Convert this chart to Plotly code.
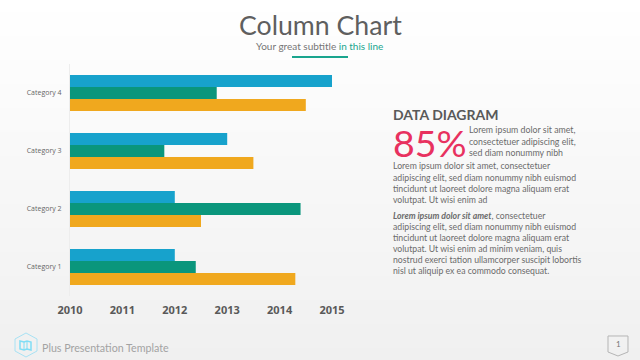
import plotly.graph_objects as go

categories = ["Category 1", "Category 2", "Category 3", "Category 4"]
series_blue = [2012, 2012, 2013, 2015]
series_green = [2012.4, 2014.4, 2011.8, 2012.8]
series_orange = [2014.3, 2012.5, 2013.5, 2014.5]
tick_years = [2010, 2011, 2012, 2013, 2014, 2015]

W, H = 640, 360
L, R, T, B = 70, 332, 64, 296
fig = go.Figure()
BASE = 2010
for vals, col in [(series_orange, "#F0A81E"), (series_green, "#0A967C"), (series_blue, "#17A2CC")]:
    fig.add_trace(go.Bar(y=categories, x=[v - BASE for v in vals], base=BASE, orientation="h",
                         marker=dict(color=col, line=dict(width=0)), showlegend=False, hoverinfo="skip"))

def px(x): return (x - L) / (R - L)
def py(y): return (B - y) / (B - T)

shapes = []
# background gradient
N = 60
for i in range(N):
    t = i / (N - 1)
    v = round(255 - 15 * t)
    shapes.append(dict(type="rect", xref="paper", yref="paper", x0=px(0), x1=px(W),
                       y0=py(H * (i + 1) / N), y1=py(H * i / N), layer="below",
                       fillcolor=f"rgb({v},{v},{v})", line=dict(width=0)))

def pixel_shape(x0, y0, x1, y1, color, **kw):
    shapes.append(dict(type="rect", xref="paper", yref="paper", x0=px(x0), x1=px(x1),
                       y0=py(y1), y1=py(y0), fillcolor=color, line=dict(width=0), **kw))

pixel_shape(292, 56, 348, 58, "#1AA58E")

def path(points, close=True):
    s = "M " + " L ".join(f"{px(x):.5f},{py(y):.5f}" for x, y in points)
    return s + (" Z" if close else "")

shapes.append(dict(type="path", xref="paper", yref="paper",
                   path=path([(26, 333), (37, 339), (37, 351), (26, 357), (15, 351), (15, 339)]),
                   line=dict(color="#A8E2F4", width=1), fillcolor="rgba(0,0,0,0)"))
shapes.append(dict(type="path", xref="paper", yref="paper",
                   path=path([(20, 341), (24, 342), (27, 341), (31, 342), (31, 350), (27, 349), (24, 350), (20, 349)]),
                   line=dict(color="#7FDDF5", width=1.5), fillcolor="rgba(0,0,0,0)"))
for fold_x, y0, y1 in [(24, 342, 350), (27, 341, 349)]:
    shapes.append(dict(type="line", xref="paper", yref="paper", x0=px(fold_x), x1=px(fold_x),
                       y0=py(y0), y1=py(y1), line=dict(color="#7FDDF5", width=1)))
shapes.append(dict(type="path", xref="paper", yref="paper",
                   path=path([(608, 336), (628, 336), (628, 352), (618, 356), (608, 352)]),
                   line=dict(color="#B5B5B5", width=1), fillcolor="rgba(0,0,0,0)"))

anns = []
def text(x, y, s, size, color, font="Lato", anchor="left"):
    anns.append(dict(text=s, xref="paper", yref="paper", x=px(x), y=py(y), xanchor=anchor, yanchor="middle",
                     showarrow=False, align=anchor, font=dict(family=font, size=size, color=color)))

text(320, 25, "Column Chart", 26.7, "#5F5F5F", anchor="center")
text(319, 46, 'Your great subtitle <span style="color:#1AA58E">in this line</span>', 10, "#767676", anchor="center")
text(391, 114, "<b>DATA DIAGRAM</b>", 14, "#595959")
text(391, 142, "85%", 37.5, "#E8315F")
body = "#6B6B6B"
for y, s in [(129, "Lorem ipsum dolor sit amet,"), (141, "consectetuer adipiscing elit,"), (152, "sed diam nonummy nibh")]:
    text(467, y, s, 8.8, body)
lines = [(165, "Lorem ipsum dolor sit amet, consectetuer"),
         (177, "adipiscing elit, sed diam nonummy nibh euismod"),
         (188, "tincidunt ut laoreet dolore magna aliquam erat"),
         (199, "volutpat. Ut wisi enim ad"),
         (215, "<b><i>Lorem ipsum dolor sit amet</i></b>, consectetuer"),
         (226, "adipiscing elit, sed diam nonummy nibh euismod"),
         (237, "tincidunt ut laoreet dolore magna aliquam erat"),
         (248, "volutpat. Ut wisi enim ad minim veniam, quis"),
         (259, "nostrud exerci tation ullamcorper suscipit lobortis"),
         (270, "nisl ut aliquip ex ea commodo consequat.")]
for y, s in lines:
    text(391, y, s, 8.7, body)
text(40, 347, "Plus Presentation Template", 10.7, "#A3A3A3")
text(618, 344, "1", 8, "#777777", anchor="center")

fig.update_layout(
    width=W, height=H, autosize=False, barmode="group", bargap=0.38, bargroupgap=0,
    margin=dict(l=L, r=W - R, t=T, b=H - B),
    paper_bgcolor="#FFFFFF", plot_bgcolor="rgba(0,0,0,0)",
    xaxis=dict(range=[2010, 2015], tickvals=tick_years, ticktext=[str(t) for t in tick_years],
               showgrid=False, zeroline=False, showline=False, ticks="", ticklabeloverflow="allow",
               tickfont=dict(family="Noto Sans", size=11, color="#595959", weight="bold"), ticklabelstandoff=6),
    yaxis=dict(categoryorder="array", categoryarray=categories, showgrid=False, zeroline=False,
               showline=True, linecolor="#EDEDED", linewidth=1, ticks="", ticklabelstandoff=6,
               tickfont=dict(family="Open Sans", size=7, color="#666666")),
    shapes=shapes, annotations=anns,
)
fig.write_html("out.html", config=dict(displayModeBar=False),
               post_script="document.body.style.margin='0';document.documentElement.style.overflow='hidden';")
